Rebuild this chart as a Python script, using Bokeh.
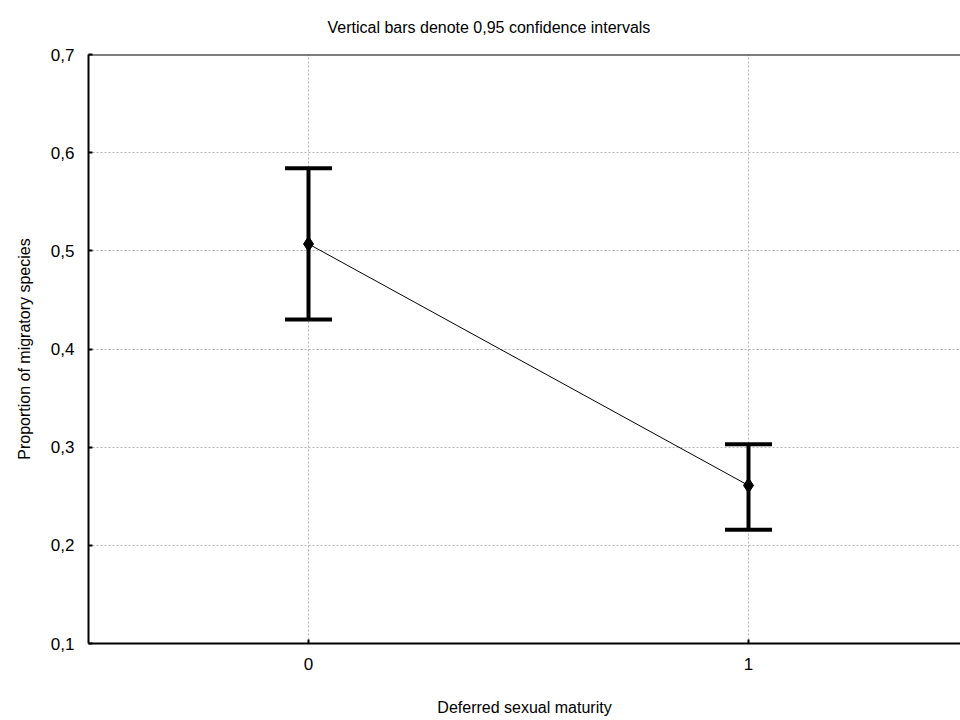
from bokeh.plotting import figure
from bokeh.models import (Range1d, FixedTicker, Whisker, TeeHead,
                          ColumnDataSource, Title, Span)
from bokeh.embed import file_html
from bokeh.resources import INLINE

# ---- data ----
groups = [0, 1]
means = [0.507, 0.261]
ci_low = [0.430, 0.216]
ci_high = [0.584, 0.303]
y_ticks = [0.1, 0.2, 0.3, 0.4, 0.5, 0.6, 0.7]
y_tick_labels = ["0,1", "0,2", "0,3", "0,4", "0,5", "0,6", "0,7"]
x_ticks = [0, 1]
x_tick_labels = ["0", "1"]
title_text = "Vertical bars denote 0,95 confidence intervals"
x_label = "Deferred sexual maturity"
y_label = "Proportion of migratory species"

FONT = "Liberation Sans"

src = ColumnDataSource(dict(x=groups, m=means, lo=ci_low, hi=ci_high))

p = figure(width=960, height=720, output_backend="svg", toolbar_location=None,
           x_range=Range1d(-0.5, 1.4818), y_range=Range1d(0.1, 0.7),
           min_border_left=88, min_border_right=0, min_border_top=54,
           min_border_bottom=77, title=None)
p.outline_line_color = None
p.background_fill_color = "white"
p.border_fill_color = "white"

# axes
p.xaxis.ticker = FixedTicker(ticks=x_ticks)
p.xaxis.major_label_overrides = {t: l for t, l in zip(x_ticks, x_tick_labels)}
p.yaxis.ticker = FixedTicker(ticks=y_ticks)
p.yaxis.major_label_overrides = {t: l for t, l in zip(y_ticks, y_tick_labels)}
for ax in (p.xaxis[0], p.yaxis[0]):
    ax.axis_line_width = 2
    ax.axis_line_color = "black"
    ax.major_tick_in = 4
    ax.major_tick_out = 0
    ax.major_tick_line_width = 2
    ax.major_tick_line_color = "black"
    ax.minor_tick_line_color = None
    ax.major_label_text_font = FONT
    ax.major_label_text_font_size = "17px"
    ax.major_label_text_color = "black"
    ax.axis_label_text_font = FONT
    ax.axis_label_text_font_size = "16px"
    ax.axis_label_text_font_style = "normal"
    ax.axis_label_text_color = "black"
p.xaxis.axis_label = x_label
p.yaxis.axis_label = y_label
p.xaxis.major_label_standoff = 14
p.xaxis.axis_label_standoff = 26
p.yaxis.major_label_standoff = 14
p.yaxis.axis_label_standoff = 15

# top border
p.add_layout(Span(location=0.7, dimension="width", line_color="black", line_width=2))

# title
t = Title(text=title_text, align="left", offset=239, text_font=FONT,
          text_font_size="16px", text_font_style="normal", text_color="black",
          vertical_align="top", standoff=34)
p.add_layout(t, "above")

# grid
p.xgrid.ticker = FixedTicker(ticks=x_ticks)
p.ygrid.ticker = FixedTicker(ticks=y_ticks)
for g in (p.xgrid[0], p.ygrid[0]):
    g.grid_line_color = "#b4b4b4"
    g.grid_line_dash = "2 2"
    g.grid_line_width = 1

# mean line
p.line("x", "m", source=src, line_color="black", line_width=1)

# error bars
w = Whisker(source=src, base="x", lower="lo", upper="hi", line_width=4,
            line_color="black",
            upper_head=TeeHead(size=47, line_width=4, line_color="black"),
            lower_head=TeeHead(size=47, line_width=4, line_color="black"))
p.add_layout(w)

# markers
p.scatter("x", "m", source=src, marker="diamond", size=15, color="black")

open("out.html", "w").write(file_html(p, INLINE))
